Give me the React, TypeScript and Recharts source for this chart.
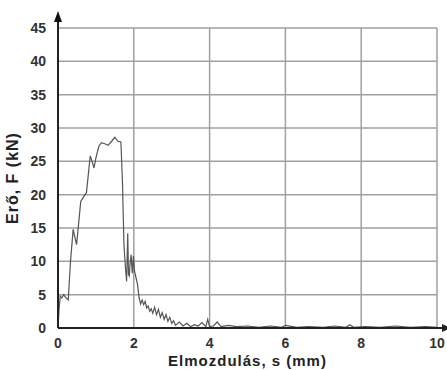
import { LineChart, Line, XAxis, YAxis, CartesianGrid, ReferenceDot } from "recharts";

// displacement (mm) and force (kN)
const dispMm = [
  0, 0.03, 0.06, 0.1, 0.15, 0.2, 0.27, 0.33, 0.4, 0.45, 0.49, 0.55, 0.6, 0.68, 0.75, 0.8, 0.85, 0.9, 0.95, 1.0,
  1.08, 1.15, 1.25, 1.32, 1.4, 1.5, 1.58, 1.66, 1.7, 1.74, 1.78, 1.81, 1.84, 1.86, 1.88, 1.9, 1.93, 1.96, 1.99,
  2.02, 2.06, 2.1, 2.14, 2.18, 2.22, 2.26, 2.3, 2.34, 2.38, 2.42, 2.46, 2.5, 2.55, 2.6, 2.65, 2.7, 2.75, 2.8,
  2.85, 2.9, 2.95, 3.0, 3.05, 3.1, 3.2, 3.3, 3.4, 3.5, 3.6, 3.7, 3.8, 3.9, 3.95, 4.0, 4.1, 4.2, 4.3, 4.5, 4.7,
  5.0, 5.3, 5.6, 5.9, 6.0, 6.3, 6.6, 7.0, 7.3, 7.6, 7.7, 7.8, 8.1, 8.5, 8.9, 9.3, 9.7, 10,
];
const forceKn = [
  0, 3, 4.8, 4.5, 5, 4.6, 4.2, 10, 14.8, 13.5, 12.5, 16, 19, 19.7, 20.3, 23, 25.8, 25, 24, 25.5,
  27.3, 27.8, 27.6, 27.4, 27.9, 28.6, 28.0, 27.9, 22, 12.5, 9, 7, 14.2, 8, 7.8, 9.5, 11, 8.2, 10.8,
  8.5, 7.5, 6.5, 4.5, 3.6, 4.2, 3.5, 4.0, 3.0, 3.3, 2.5, 2.9, 2.2, 3.1, 2.0, 2.8, 1.6, 2.3, 1.3,
  2.0, 1.0, 1.6, 0.7, 1.1, 0.4, 0.9, 0.3, 0.7, 0.2, 0.5, 0.3, 0.8, 0.2, 1.3, 0.2, 0.3, 0.9, 0.2, 0.4, 0.2,
  0.3, 0.1, 0.3, 0.1, 0.4, 0.1, 0.2, 0.1, 0.3, 0.1, 0.5, 0.1, 0.2, 0.1, 0.3, 0.1, 0.2, 0.1,
];
const xTicks = [0, 2, 4, 6, 8, 10];
const yTicks = [0, 5, 10, 15, 20, 25, 30, 35, 40, 45];

const data = dispMm.map((s, i) => ({ s, f: forceKn[i] }));

const font = "'Liberation Sans', Arial, sans-serif";

// arrow head on top of the y axis
const YArrow = (props: any) => {
  const { cx, cy } = props;
  return (
    <g>
      <line x1={cx} y1={cy} x2={cx} y2={cy - 8} stroke="#222" strokeWidth={2} />
      <polygon points={`${cx},${cy - 17} ${cx - 4},${cy - 6} ${cx + 4},${cy - 6}`} fill="#111" />
    </g>
  );
};

// x axis runs on past 10, arrow cut off by the frame
const XArrow = (props: any) => {
  const { cx, cy } = props;
  return (
    <g>
      <line x1={cx} y1={cy} x2={cx + 10} y2={cy} stroke="#222" strokeWidth={2} />
      <polygon points={`${cx + 14},${cy} ${cx + 5},${cy - 4} ${cx + 5},${cy + 4}`} fill="#222" />
    </g>
  );
};

export default function App() {
  return (
    <div style={{ position: "absolute", left: 0, top: 0, width: 447, height: 370, background: "#fff", overflow: "hidden" }}>
      <LineChart width={447} height={370} data={data} margin={{ top: 28, right: 10, left: 0, bottom: 0 }}>
        <CartesianGrid stroke="#a0a0a0" strokeWidth={1.5} />
        <XAxis
          type="number"
          dataKey="s"
          domain={[0, 10]}
          ticks={xTicks}
          height={42}
          axisLine={{ stroke: "#222", strokeWidth: 2 }}
          tickLine={false}
          tick={{ fill: "#333", fontSize: 14, fontFamily: font, fontWeight: 700 }}
          tickMargin={4}
          label={{
            value: "Elmozdulás, s (mm)",
            position: "insideBottom",
            offset: 4,
            fill: "#222",
            fontSize: 15,
            fontWeight: 700,
            fontFamily: font,
            style: { letterSpacing: 1 },
          }}
        />
        <YAxis
          type="number"
          domain={[0, 45]}
          ticks={yTicks}
          width={58}
          axisLine={{ stroke: "#222", strokeWidth: 2 }}
          tickLine={false}
          tick={{ fill: "#333", fontSize: 14, fontFamily: font, fontWeight: 700 }}
          tickMargin={6}
          label={{
            value: "Erő, F (kN)",
            angle: -90,
            position: "insideLeft",
            offset: 12,
            fill: "#222",
            fontSize: 16,
            fontWeight: 700,
            fontFamily: font,
            style: { textAnchor: "middle", letterSpacing: 1 },
          }}
        />
        <Line
          type="linear"
          dataKey="f"
          stroke="#555"
          strokeWidth={1.2}
          dot={false}
          isAnimationActive={false}
        />
        <ReferenceDot x={0} y={45} shape={YArrow} />
        <ReferenceDot x={10} y={0} shape={XArrow} />
      </LineChart>
    </div>
  );
}
